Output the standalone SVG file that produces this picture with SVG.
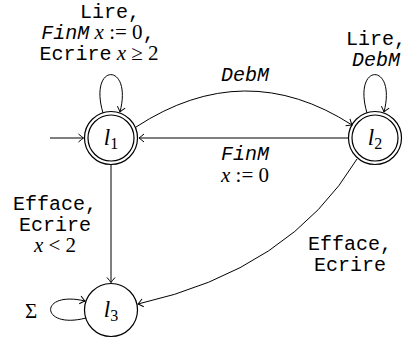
<svg xmlns="http://www.w3.org/2000/svg" width="406" height="345" viewBox="0 0 406 345">
<style>
.st{fill:none;stroke:#000;stroke-width:1.2}
.e{fill:none;stroke:#000;stroke-width:1}
.tt{font-family:"Liberation Mono","DejaVu Sans Mono",monospace;font-size:20px}
.it{font-style:italic}
.m{font-family:"Liberation Serif","DejaVu Serif",serif;font-size:21px}
.mi{font-family:"Liberation Serif","DejaVu Serif",serif;font-size:21px;font-style:italic}
.nl{font-family:"Liberation Serif","DejaVu Serif",serif;font-size:23px;font-style:italic}
.sub{font-family:"Liberation Serif","DejaVu Serif",serif;font-size:16px;font-style:normal}
</style>
<defs>
<marker id="ar" viewBox="-6 -5 7 10" refX="0" refY="0" markerWidth="7" markerHeight="10" markerUnits="userSpaceOnUse" orient="auto">
<path d="M-5,-4 Q-1.5,-1 0,0 Q-1.5,1 -5,4" fill="none" stroke="#000" stroke-width="1"/>
</marker>
</defs>
<g id="l1">
<circle cx="111" cy="138" r="26.5" class="st"/>
<circle cx="111" cy="138" r="23" class="st"/>
<text x="111" y="145" text-anchor="middle" class="nl">l<tspan class="sub" dy="4">1</tspan></text>
</g>
<g id="l2">
<circle cx="375" cy="138" r="26.5" class="st"/>
<circle cx="375" cy="138" r="23" class="st"/>
<text x="375" y="145" text-anchor="middle" class="nl">l<tspan class="sub" dy="4">2</tspan></text>
</g>
<g id="l3">
<circle cx="111" cy="310" r="26.5" class="st"/>
<text x="111" y="317" text-anchor="middle" class="nl">l<tspan class="sub" dy="4">3</tspan></text>
</g>
<g id="connectors">
<path d="M50,138 H83.5" class="e" marker-end="url(#ar)"/>
<path d="M103,113 C88,62 133,62 120,112" class="e" marker-end="url(#ar)"/>
<path d="M367,113 C352,62 397,62 384,112" class="e" marker-end="url(#ar)"/>
<path d="M136,127 Q245,56 352,125" class="e" marker-end="url(#ar)"/>
<path d="M348,138 H139" class="e" marker-end="url(#ar)"/>
<path d="M111,165 V282.5" class="e" marker-end="url(#ar)"/>
<path d="M357,159 Q290,270 138,304" class="e" marker-end="url(#ar)"/>
<path d="M86,318 C40,330 38,290 85,301" class="e" marker-end="url(#ar)"/>
</g>
<g id="labels">
<text x="110" y="18" text-anchor="middle" class="tt">Lire,</text>
<text x="98" y="39" text-anchor="middle"><tspan class="tt it">FinM</tspan><tspan class="mi"> x</tspan><tspan class="m"> := 0</tspan><tspan class="tt">,</tspan></text>
<text x="99" y="60" text-anchor="middle"><tspan class="tt">Ecrire</tspan><tspan class="mi"> x</tspan><tspan class="m"> ≥ 2</tspan></text>
<text x="245" y="81" text-anchor="middle" class="tt it">DebM</text>
<text x="376" y="45" text-anchor="middle" class="tt">Lire,</text>
<text x="376" y="66" text-anchor="middle" class="tt it">DebM</text>
<text x="245" y="160" text-anchor="middle" class="tt it">FinM</text>
<text x="245" y="182" text-anchor="middle"><tspan class="mi">x</tspan><tspan class="m"> := 0</tspan></text>
<text x="55" y="210" text-anchor="middle" class="tt">Efface,</text>
<text x="55" y="231" text-anchor="middle" class="tt">Ecrire</text>
<text x="55" y="252" text-anchor="middle"><tspan class="mi">x</tspan><tspan class="m"> &lt; 2</tspan></text>
<text x="350" y="250" text-anchor="middle" class="tt">Efface,</text>
<text x="350" y="271" text-anchor="middle" class="tt">Ecrire</text>
<text x="31" y="318" text-anchor="middle" class="m">Σ</text>
</g>
</svg>
